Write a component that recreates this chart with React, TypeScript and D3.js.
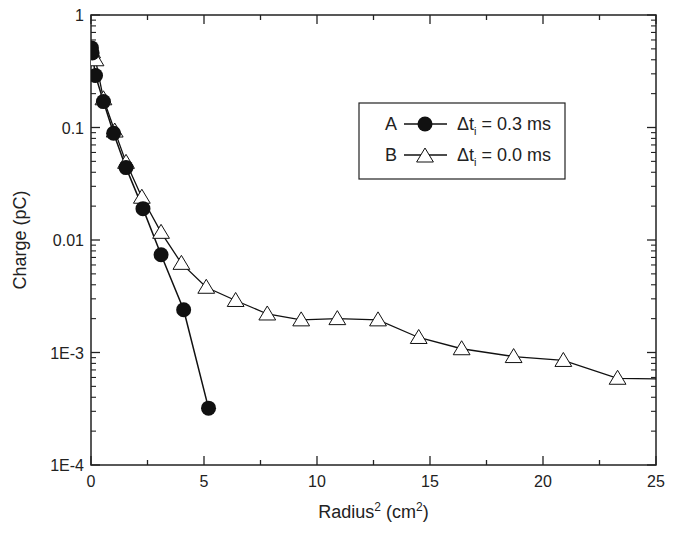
import React from "react";
import * as d3 from "d3";

const aX = [0.02, 0.05, 0.2, 0.55, 1.0, 1.55, 2.3, 3.1, 4.1, 5.2];
const aY = [0.51, 0.46, 0.29, 0.17, 0.089, 0.044, 0.019, 0.0074, 0.0024, 0.00032];
const bX = [0.05, 0.2, 0.55, 1.05, 1.55, 2.25, 3.1, 4.0, 5.1, 6.4, 7.8, 9.3, 10.9, 12.7, 14.5, 16.4, 18.7, 20.9, 23.3, 26];
const bY = [0.47, 0.4, 0.18, 0.093, 0.049, 0.024, 0.0117, 0.0062, 0.0038, 0.0029, 0.0022, 0.00195, 0.002, 0.00195, 0.00136, 0.00108, 0.00092, 0.00085, 0.00059, 0.00058];
const xTicks = [0, 5, 10, 15, 20, 25];
const yTicks = [1, 0.1, 0.01, 0.001, 0.0001];
const yLabels = ["1", "0.1", "0.01", "1E-3", "1E-4"];

export default function App() {
  const L = 91, R = 656, T = 15, B = 465;
  const x = d3.scaleLinear().domain([0, 25]).range([L, R]);
  const y = d3.scaleLog().domain([1e-4, 1]).range([B, T]);
  const pathA = d3.line<[number, number]>().x(d => x(d[0])).y(d => y(d[1]))(aX.map((v, i) => [v, aY[i]]))!;
  const pathB = d3.line<[number, number]>().x(d => x(d[0])).y(d => y(d[1]))(bX.map((v, i) => [v, bY[i]]))!;
  const minor: number[] = [];
  for (let e = -4; e < 0; e++) for (let k = 2; k < 10; k++) minor.push(k * Math.pow(10, e));
  const xMinor = d3.range(0, 25.01, 2.5);
  const font = "Liberation Sans, Arial, sans-serif";
  const tri = (cx: number, cy: number, s = 8) => `M${cx},${cy - s}L${cx + s * 1.05},${cy + s * 0.75}L${cx - s * 1.05},${cy + s * 0.75}Z`;
  return (
    <svg width={676} height={535} style={{ display: "block", position: "absolute", left: 0, top: 0 }} fontFamily={font}>
      <rect width={676} height={535} fill="#fff" />
      <defs><clipPath id="c"><rect x={L} y={T} width={R - L} height={B - T} /></clipPath></defs>
      <rect x={L} y={T} width={R - L} height={B - T} fill="none" stroke="#222" strokeWidth={1.5} />
      {xMinor.map(v => { const big = v % 5 === 0; const h = big ? 9 : 5; return (
        <g key={v}>
          <line x1={x(v)} x2={x(v)} y1={B} y2={B - h} stroke="#222" strokeWidth={1.3} />
          <line x1={x(v)} x2={x(v)} y1={T} y2={T + h} stroke="#222" strokeWidth={1.3} />
        </g>); })}
      {xTicks.map(v => <text key={v} x={x(v)} y={B + 22} textAnchor="middle" fontSize={16} fill="#222">{v}</text>)}
      {yTicks.map((v, i) => (
        <g key={v}>
          <line x1={L} x2={L + 9} y1={y(v)} y2={y(v)} stroke="#222" strokeWidth={1.3} />
          <line x1={R} x2={R - 9} y1={y(v)} y2={y(v)} stroke="#222" strokeWidth={1.3} />
          <text x={L - 7} y={y(v) + 6} textAnchor="end" fontSize={16} fill="#222">{yLabels[i]}</text>
        </g>))}
      {minor.map(v => (
        <g key={v}>
          <line x1={L} x2={L + 5} y1={y(v)} y2={y(v)} stroke="#222" strokeWidth={1.1} />
          <line x1={R} x2={R - 5} y1={y(v)} y2={y(v)} stroke="#222" strokeWidth={1.1} />
        </g>))}
      <g clipPath="url(#c)">
        <path d={pathB} fill="none" stroke="#111" strokeWidth={1.3} />
        <path d={pathA} fill="none" stroke="#111" strokeWidth={1.5} />
        {bX.map((v, i) => <path key={i} d={tri(x(v), y(bY[i]))} fill="#fff" stroke="#111" strokeWidth={1} />)}
        {aX.map((v, i) => <circle key={i} cx={x(v)} cy={y(aY[i])} r={7.5} fill="#111" />)}
      </g>
      <text x={(L + R) / 2} y={B + 53} textAnchor="middle" fontSize={18} fill="#222">Radius<tspan dy={-7} fontSize={12}>2</tspan><tspan dy={7}> (cm</tspan><tspan dy={-7} fontSize={12}>2</tspan><tspan dy={7}>)</tspan></text>
      <text transform={`translate(26,${(T + B) / 2}) rotate(-90)`} textAnchor="middle" fontSize={18} fill="#222">Charge (pC)</text>
      <rect x={359} y={103} width={206} height={76} fill="#fff" stroke="#222" strokeWidth={1.2} />
      <g fontSize={18} fill="#222">
        <text x={391} y={130} textAnchor="middle">A</text>
        <line x1={404} x2={447} y1={124} y2={124} stroke="#111" strokeWidth={1.5} />
        <circle cx={425} cy={124} r={7.5} fill="#111" />
        <text x={457} y={130}>Δt<tspan dy={5} fontSize={11}>i</tspan><tspan dy={-5}> = 0.3 ms</tspan></text>
        <text x={391} y={161} textAnchor="middle">B</text>
        <line x1={404} x2={447} y1={155} y2={155} stroke="#111" strokeWidth={1.3} />
        <path d={tri(425, 156)} fill="#fff" stroke="#111" strokeWidth={1} />
        <text x={457} y={161}>Δt<tspan dy={5} fontSize={11}>i</tspan><tspan dy={-5}> = 0.0 ms</tspan></text>
      </g>
    </svg>
  );
}
